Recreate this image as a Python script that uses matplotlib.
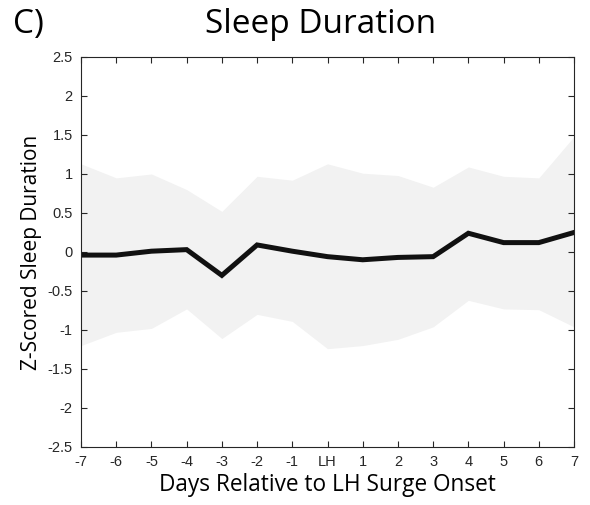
import numpy as np
import matplotlib.pyplot as plt

# data
days = [-7, -6, -5, -4, -3, -2, -1, 0, 1, 2, 3, 4, 5, 6, 7]
day_labels = ['-7', '-6', '-5', '-4', '-3', '-2', '-1', 'LH', '1', '2', '3', '4', '5', '6', '7']
mean_z = [-0.04, -0.04, 0.01, 0.03, -0.30, 0.09, 0.01, -0.06, -0.10, -0.07, -0.06, 0.24, 0.12, 0.12, 0.25]
upper = [1.13, 0.95, 1.00, 0.80, 0.52, 0.97, 0.92, 1.13, 1.01, 0.98, 0.83, 1.09, 0.97, 0.95, 1.48]
lower = [-1.20, -1.03, -0.98, -0.73, -1.11, -0.80, -0.89, -1.24, -1.20, -1.12, -0.96, -0.62, -0.73, -0.74, -0.96]

fig = plt.figure(figsize=(5.9, 5.05), dpi=100)
ax = fig.add_axes([0.1373, 0.1149, 0.8356, 0.7723])

ax.fill_between(days, lower, upper, color='#f2f2f2', linewidth=0)
ax.plot(days, mean_z, color='#111111', linewidth=3.6, solid_joinstyle='miter')

ax.set_xlim(-7, 7)
ax.set_ylim(-2.5, 2.5)
ax.set_xticks(days)
ax.set_xticklabels(day_labels)
yt = np.arange(-2.5, 2.51, 0.5)
ax.set_yticks(yt)
ax.set_yticklabels(['%g' % v for v in yt])

ax.tick_params(direction='in', top=True, right=True, length=4, width=0.8,
               colors='#262626', labelsize=10.5, pad=6)
for lab in ax.get_xticklabels() + ax.get_yticklabels():
    lab.set_fontname('Liberation Sans')
for s in ax.spines.values():
    s.set_color('#262626')
    s.set_linewidth(0.8)

ax.set_xlabel('Days Relative to LH Surge Onset', fontname='Open Sans', fontsize=16.3, labelpad=3)
ax.set_ylabel('Z-Scored Sleep Duration', fontname='Open Sans', fontsize=15, labelpad=4)

fig.text(0.544, 0.9347, 'Sleep Duration', fontname='Open Sans', fontsize=24, ha='center', va='baseline')
fig.text(0.022, 0.9347, 'C)', fontname='Open Sans', fontsize=24, ha='left', va='baseline')

fig.savefig('out.png', dpi=100)
